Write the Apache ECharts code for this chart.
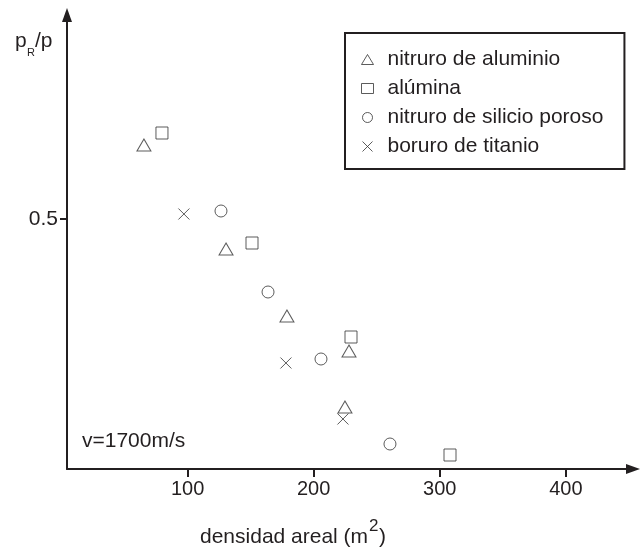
<!DOCTYPE html>
<html>
<head>
<meta charset="utf-8">
<script src="https://cdn.jsdelivr.net/npm/echarts@6/dist/echarts.min.js"></script>
<style>
  html, body { margin: 0; padding: 0; background: #fff; }
  #chart { width: 640px; height: 549px; }
</style>
</head>
<body>
<div id="chart"></div>
<script>
// datos (densidad areal, pR/p)
const nitruroAlX = [65.4, 130.5, 178.8, 228.0, 224.8];
const nitruroAlY = [0.648, 0.440, 0.306, 0.236, 0.124];
const aluminaX = [79.7, 151.1, 229.6, 308.1];
const aluminaY = [0.672, 0.452, 0.264, 0.028];
const silicioX = [126.5, 163.8, 205.8, 260.5];
const silicioY = [0.516, 0.354, 0.220, 0.050];
const titanioX = [97.1, 178.0, 223.2];
const titanioY = [0.510, 0.212, 0.100];

const xTicks = [100, 200, 300, 400];
const yTicks = [0.5];

const FONT = '"Liberation Sans", Arial, Helvetica, sans-serif';
const INK = '#231f20';
const MARK = '#333333';

function pairs(xs, ys) {
    return xs.map((x, i) => [x, ys[i]]);
}

function serie(name, symbol, size, xs, ys) {
    return {
        name: name,
        type: 'scatter',
        symbol: symbol,
        symbolSize: size,
        data: pairs(xs, ys),
        itemStyle: {
            color: 'rgba(0,0,0,0)',
            borderColor: MARK,
            borderWidth: 1
        },
        emphasis: { disabled: true }
    };
}

const chart = echarts.init(document.getElementById('chart'));

chart.setOption({
    animation: false,
    grid: {
        left: 67,
        right: 7,
        top: 15,
        bottom: 80,
        outerBoundsMode: 'none'
    },
    xAxis: {
        type: 'value',
        min: 4.4,
        max: 453.2,
        splitLine: { show: false },
        axisLine: {
            show: true,
            symbol: ['none', 'triangle'],
            symbolSize: [10, 14],
            lineStyle: { color: INK, width: 2 }
        },
        axisTick: {
            show: true,
            inside: false,
            length: 8,
            customValues: xTicks,
            lineStyle: { color: INK, width: 2 }
        },
        axisLabel: {
            customValues: xTicks,
            margin: 10,
            color: INK,
            fontSize: 20,
            fontFamily: FONT
        }
    },
    yAxis: {
        type: 'value',
        min: 0,
        max: 0.908,
        splitLine: { show: false },
        axisLine: {
            show: true,
            symbol: ['none', 'triangle'],
            symbolSize: [10, 14],
            lineStyle: { color: INK, width: 2 }
        },
        axisTick: {
            show: true,
            inside: false,
            length: 7,
            customValues: yTicks,
            lineStyle: { color: INK, width: 2 }
        },
        axisLabel: {
            customValues: yTicks,
            margin: 9,
            color: INK,
            fontSize: 21,
            fontFamily: FONT,
            formatter: v => String(v)
        }
    },
    legend: {
        orient: 'vertical',
        left: 345,
        top: 33,
        padding: [16, 21, 12, 16],
        itemGap: 8,
        itemWidth: 12,
        itemHeight: 10,
        selectedMode: false,
        borderColor: INK,
        borderWidth: 2,
        backgroundColor: '#fff',
        itemStyle: { borderWidth: 1 },
        textStyle: { color: INK, fontSize: 21, fontFamily: FONT, padding: [0, 0, 0, 9] },
        data: ['nitruro de aluminio', 'alúmina', 'nitruro de silicio poroso', 'boruro de titanio']
    },
    series: [
        serie('nitruro de aluminio', 'triangle', [14, 12], nitruroAlX, nitruroAlY),
        serie('alúmina', 'rect', 12, aluminaX, aluminaY),
        serie('nitruro de silicio poroso', 'circle', 12, silicioX, silicioY),
        serie('boruro de titanio', 'path://M0,0L10,10M10,0L0,10', 11, titanioX, titanioY)
    ],
    graphic: [
        // titulo eje y: pR/p
        { type: 'text', left: 15, top: 31, style: { text: 'p', fill: INK, font: '21px ' + FONT } },
        { type: 'text', left: 27, top: 47, style: { text: 'R', fill: INK, font: '11px ' + FONT } },
        { type: 'text', left: 35, top: 31, style: { text: '/p', fill: INK, font: '21px ' + FONT } },
        // velocidad
        { type: 'text', left: 82, top: 431, style: { text: 'v=1700m/s', fill: INK, font: '21px ' + FONT } },
        // titulo eje x
        { type: 'text', left: 200, top: 527, style: { text: 'densidad areal (m', fill: INK, font: '21px ' + FONT } },
        { type: 'text', left: 369, top: 518, style: { text: '2', fill: INK, font: '17px ' + FONT } },
        { type: 'text', left: 379, top: 527, style: { text: ')', fill: INK, font: '21px ' + FONT } }
    ]
});
</script>
</body>
</html>
